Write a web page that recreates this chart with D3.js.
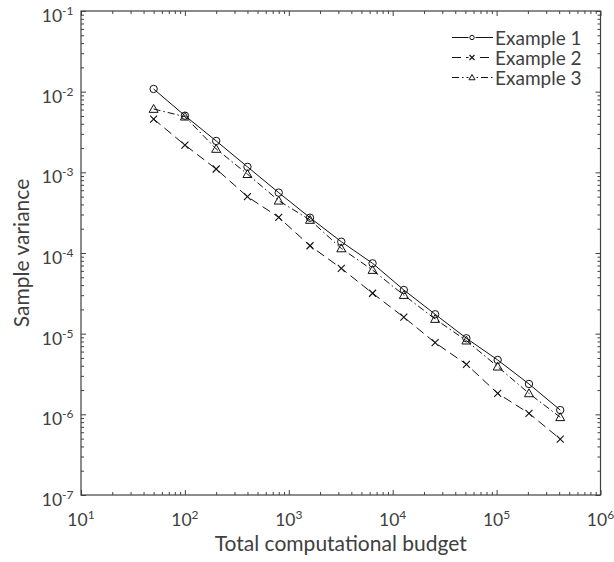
<!DOCTYPE html>
<html>
<head>
<meta charset="utf-8">
<script src="https://cdn.jsdelivr.net/npm/d3@7"></script>
<style>
  body { margin: 0; background: #fff; }
  svg text { font-family: Lato, "Open Sans", sans-serif; fill: #404040; }
</style>
</head>
<body>
<svg id="chart"></svg>
<script>
// total computational budget (x) for every series
const budget = [50, 100, 200, 400, 800, 1600, 3200, 6400, 12800, 25600, 51200, 102400, 204800, 409600];

// sample variance
const example1 = [1.08e-2, 5.04e-3, 2.45e-3, 1.17e-3, 5.6e-4, 2.74e-4, 1.38e-4, 7.45e-5, 3.48e-5, 1.74e-5, 8.77e-6, 4.72e-6, 2.38e-6, 1.13e-6];
const example2 = [4.58e-3, 2.18e-3, 1.10e-3, 4.99e-4, 2.77e-4, 1.23e-4, 6.46e-5, 3.17e-5, 1.60e-5, 7.73e-6, 4.17e-6, 1.82e-6, 1.03e-6, 4.94e-7];
const example3 = [6.1e-3, 4.9e-3, 1.95e-3, 9.5e-4, 4.45e-4, 2.57e-4, 1.14e-4, 6.15e-5, 3.01e-5, 1.52e-5, 8.2e-6, 3.9e-6, 1.82e-6, 9.2e-7];

const seriesNames = ['Example 1', 'Example 2', 'Example 3'];
const xExponents = [1, 2, 3, 4, 5, 6];
const yExponents = [-7, -6, -5, -4, -3, -2, -1];

const width = 614;
const height = 562;
const plotL = 81, plotR = 600.5, plotT = 11, plotB = 495;
const ink = '#404040';

const svg = d3.select('#chart')
  .attr('width', width)
  .attr('height', height);

const x = d3.scaleLog().domain([1e1, 1e6]).range([plotL, plotR]);
const y = d3.scaleLog().domain([1e-7, 1e-1]).range([plotB, plotT]);

// minor tick values: 2..9 in every decade
const minor = (lo, hi) => {
  const out = [];
  for (let e = lo; e < hi; e++) {
    for (let m = 2; m <= 9; m++) out.push(m * Math.pow(10, e));
  }
  return out;
};
const xMajor = xExponents.map(e => Math.pow(10, e));
const yMajor = yExponents.map(e => Math.pow(10, e));
const xMinor = minor(1, 6);
const yMinor = minor(-7, -1);

// ticks point inward on all four sides
const addAxis = (maker, scale, values, size, transform) => {
  svg.append('g')
    .attr('transform', transform)
    .call(maker(scale).tickValues(values).tickSizeInner(size).tickSizeOuter(0).tickFormat(''))
    .call(g => g.select('.domain').remove())
    .call(g => g.selectAll('.tick line').attr('stroke', ink).attr('stroke-width', 1));
};
addAxis(d3.axisBottom, x, xMinor, -3, `translate(0,${plotB})`);
addAxis(d3.axisBottom, x, xMajor, -5, `translate(0,${plotB})`);
addAxis(d3.axisTop, x, xMinor, -3, `translate(0,${plotT})`);
addAxis(d3.axisTop, x, xMajor, -5, `translate(0,${plotT})`);
addAxis(d3.axisLeft, y, yMinor, -3, `translate(${plotL},0)`);
addAxis(d3.axisLeft, y, yMajor, -5, `translate(${plotL},0)`);
addAxis(d3.axisRight, y, yMinor, -3, `translate(${plotR},0)`);
addAxis(d3.axisRight, y, yMajor, -5, `translate(${plotR},0)`);

svg.append('rect')
  .attr('x', plotL).attr('y', plotT)
  .attr('width', plotR - plotL).attr('height', plotB - plotT)
  .attr('fill', 'none').attr('stroke', ink).attr('stroke-width', 1.2);

// tick labels 10^n
const xLab = svg.append('g').selectAll('text')
  .data(xExponents)
  .join('text')
  .attr('x', d => x(Math.pow(10, d)))
  .attr('y', plotB + 31)
  .attr('text-anchor', 'middle')
  .style('font-size', '17.5px');
xLab.append('tspan').text('10');
xLab.append('tspan').attr('dy', -7).style('font-size', '12px').text(d => d);

const yLab = svg.append('g').selectAll('text')
  .data(yExponents)
  .join('text')
  .attr('x', plotL - 7.5)
  .attr('y', d => y(Math.pow(10, d)) + 11)
  .attr('text-anchor', 'end')
  .style('font-size', '17.5px');
yLab.append('tspan').text('10');
yLab.append('tspan').attr('dy', -7).style('font-size', '12px').text(d => '-' + Math.abs(d));

svg.append('text')
  .attr('x', (plotL + plotR) / 2).attr('y', 551)
  .attr('text-anchor', 'middle')
  .style('font-size', '21px')
  .text('Total computational budget');

svg.append('text')
  .attr('transform', `translate(28.5,${(plotT + plotB) / 2}) rotate(-90)`)
  .attr('text-anchor', 'middle')
  .style('font-size', '21px')
  .text('Sample variance');

// series
const series = [
  { name: seriesNames[0], values: example1, dash: null, marker: 'circle' },
  { name: seriesNames[1], values: example2, dash: '9,5', marker: 'cross' },
  { name: seriesNames[2], values: example3, dash: '7,3,1.5,3', marker: 'triangle' }
];

const line = d3.line()
  .x(d => x(d[0]))
  .y(d => y(d[1]));

const drawMarker = (g, type, size) => {
  if (type === 'circle') {
    g.append('circle').attr('r', size / 2)
      .attr('fill', 'none').attr('stroke', '#111').attr('stroke-width', 1);
  } else if (type === 'cross') {
    const s = size / 2;
    g.append('path').attr('d', `M${-s},${-s}L${s},${s}M${-s},${s}L${s},${-s}`)
      .attr('stroke', '#111').attr('stroke-width', 1.1);
  } else {
    const s = size / 2;
    g.append('path').attr('d', `M0,${-s}L${s},${s * 0.75}L${-s},${s * 0.75}Z`)
      .attr('fill', 'none').attr('stroke', '#111').attr('stroke-width', 1);
  }
};

const markerSize = { circle: 7.4, cross: 7, triangle: 9 };

series.forEach(s => {
  const pts = budget.map((b, i) => [b, s.values[i]]);
  svg.append('path')
    .datum(pts)
    .attr('d', line)
    .attr('fill', 'none')
    .attr('stroke', '#111')
    .attr('stroke-width', 1)
    .attr('stroke-dasharray', s.dash);
  svg.append('g').selectAll('g')
    .data(pts)
    .join('g')
    .attr('transform', d => `translate(${x(d[0])},${y(d[1])})`)
    .each(function () { drawMarker(d3.select(this), s.marker, markerSize[s.marker]); });
});

// legend (no box)
const legendSize = { circle: 4.4, cross: 5, triangle: 6 };
const legend = svg.append('g').attr('transform', 'translate(452,37.5)');
series.forEach((s, i) => {
  const row = legend.append('g').attr('transform', `translate(0,${i * 20})`);
  row.append('line')
    .attr('x1', 0).attr('x2', 41).attr('y1', 0).attr('y2', 0)
    .attr('stroke', '#111').attr('stroke-width', 1)
    .attr('stroke-dasharray', s.dash);
  const m = row.append('g').attr('transform', 'translate(20,0)');
  m.append('rect').attr('x', -3.5).attr('y', -3.5).attr('width', 7).attr('height', 7).attr('fill', '#fff');
  drawMarker(m, s.marker, legendSize[s.marker]);
  row.append('text')
    .attr('x', 43).attr('y', 7)
    .style('font-size', '19px')
    .text(s.name);
});
</script>
</body>
</html>
